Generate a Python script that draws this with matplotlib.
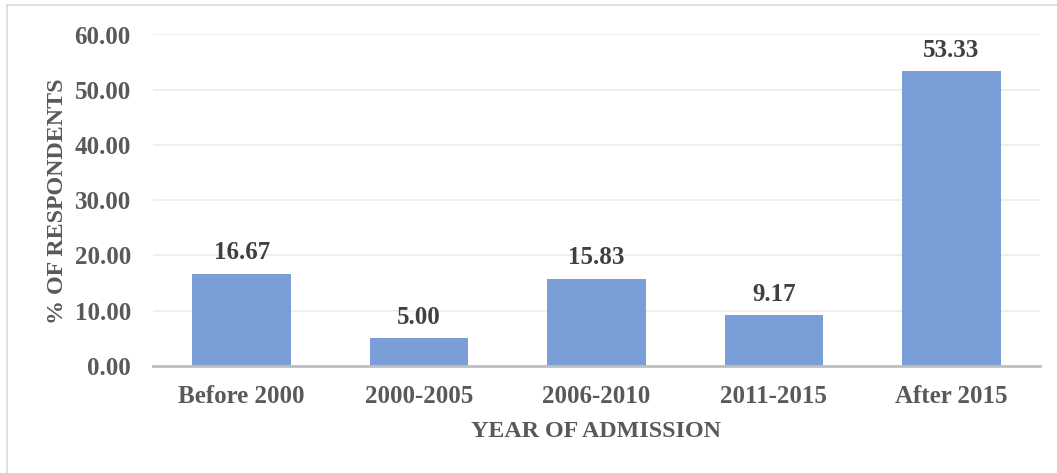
import matplotlib
matplotlib.use("Agg")
import matplotlib.pyplot as plt
from matplotlib.lines import Line2D

categories = ["Before 2000", "2000-2005", "2006-2010", "2011-2015", "After 2015"]
values = [16.67, 5.00, 15.83, 9.17, 53.33]
yticks = [0, 10, 20, 30, 40, 50, 60]

W, H = 1057, 473
fig = plt.figure(figsize=(W / 100, H / 100), dpi=100)
plt.rcParams['font.family'] = ['Liberation Serif', 'DejaVu Serif']

left, right = 153 / W, 1040 / W
bottom, top = (H - 366) / H, (H - 34.5) / H
ax = fig.add_axes([left, bottom, right - left, top - bottom])

x = list(range(len(categories)))
bars = ax.bar(x, values, width=0.555, color="#7A9ED8", zorder=3)
ax.set_xlim(-0.5, len(categories) - 0.5)
ax.set_ylim(0, 60)
ax.set_yticks(yticks)
ax.set_yticklabels([f"{v:.2f}" for v in yticks])
ax.set_xticks(x)
ax.set_xticklabels(categories)
ax.yaxis.grid(True, color="#EEEEEE", linewidth=1.3, zorder=0)
ax.set_axisbelow(True)
for s in ["top", "right", "left"]:
    ax.spines[s].set_visible(False)
ax.spines["bottom"].set_color("#BFBFBF")
ax.spines["bottom"].set_linewidth(2)
ax.spines["bottom"].set_zorder(4)
ax.tick_params(axis="both", length=0, labelsize=18, labelcolor="#595959")
ax.tick_params(axis="y", pad=16)
ax.tick_params(axis="x", pad=14)
for lab in ax.get_xticklabels() + ax.get_yticklabels():
    lab.set_fontweight("bold")

for xi, v in zip(x, values):
    ax.annotate(f"{v:.2f}", (xi, v), xytext=(0, 7), textcoords="offset points",
                ha="center", va="bottom", fontsize=18, fontweight="bold",
                color="#404040")

fig.text(596 / W, 1 - 431 / H, "YEAR OF ADMISSION", ha="center", va="center",
         fontsize=17.3, fontweight="bold", color="#595959")
fig.text(58 / W, 1 - 201 / H, "% OF RESPONDENTS", ha="center", va="center",
         rotation=90, fontsize=17.3, fontweight="bold", color="#595959")

# chart border (top and left visible)
fig.add_artist(Line2D([7 / W, 7 / W], [0, 1 - 5 / H], transform=fig.transFigure,
                      color="#D9D9D9", linewidth=1.2))
fig.add_artist(Line2D([7 / W, 1], [1 - 5 / H, 1 - 5 / H], transform=fig.transFigure,
                      color="#D9D9D9", linewidth=1.2))

fig.savefig("out.png", dpi=100, facecolor="white")
